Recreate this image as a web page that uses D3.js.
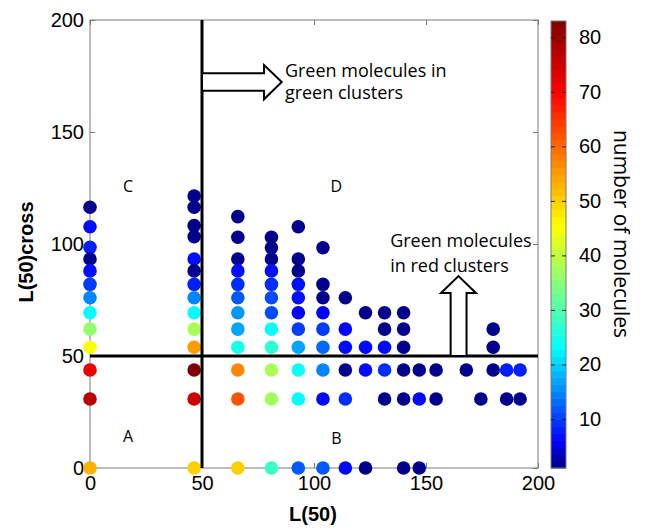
<!DOCTYPE html>
<html>
<head>
<meta charset="UTF-8">
<title>L(50) vs L(50)cross</title>
<script src="https://d3js.org/d3.v7.min.js"></script>
<style>
  body { margin: 0; background: #fff; }
  .tick text { font-family: "Liberation Sans", Arial, sans-serif; font-size: 20px; fill: #000; }
</style>
</head>
<body>
<svg id="chart" width="646" height="529"></svg>
<script>
// values, one line per L(50) column
var l50 = [
  0,0,0,0,0,0,0,0,0,0,0,0,0,
  46.5,46.5,46.5,46.5,46.5,46.5,46.5,46.5,46.5,46.5,46.5,46.5,46.5,46.5,
  66,66,66,66,66,66,66,66,66,66,66,66,
  81,81,81,81,81,81,81,81,81,81,81,81,
  93,93,93,93,93,93,93,93,93,93,93,
  104,104,104,104,104,104,104,104,104,
  114,114,114,114,114,114,
  123,123,123,123,
  131.5,131.5,131.5,131.5,131.5,
  140,140,140,140,140,140,
  147,147,147,
  154.5,154.5,
  168,
  174.5,
  180,180,180,
  186,186,
  192,192
];
var l50cross = [
  116.4,107.7,98.5,93.3,88,82,76,69.3,62,53.9,43.75,30.8,0,
  121.4,116.4,108.2,103.3,93.3,88,82,76,69.3,62,53.9,43.75,30.8,0,
  112.2,103,93.3,88,82,76,69.3,62,53.9,43.75,30.8,0,
  103,98.3,93.3,88,82,76,69.3,62,53.9,43.75,30.8,0,
  107.7,93.3,88,82,76,69.3,62,53.9,43.75,30.8,0,
  98.3,82,76,69.3,62,53.9,43.75,30.8,0,
  76,62,53.9,43.75,30.8,0,
  69.3,53.9,43.75,0,
  69.3,62,53.9,43.75,30.8,
  69.3,62,53.9,43.75,30.8,0,
  43.75,30.8,0,
  43.75,30.8,
  43.75,
  30.8,
  62,53.9,43.75,
  43.75,30.8,
  43.75,30.8
];
var molecules = [
  1.5,7,8,1.5,7,10,15,23,36,45,72,77,53,
  1.5,1.5,1.5,1.5,7,1.5,8,15,23,38,55,83,75,50,
  1.5,1.5,1.5,7,9,12,16,17,25,57,62,50,
  1.5,1.5,1.5,7,9,11,11,23,27,38,37,28,
  1.5,1.5,1.5,7,7,6,10,17,24,23,12,
  1.5,1.5,1.5,6,10,13,15,6.5,12,
  1.5,6,6.5,1.5,9,6.5,
  1.5,6.5,6.5,1.5,
  1.5,1.5,6.5,9,1.5,
  1.5,1.5,1.5,1.5,1.5,1.5,
  1.5,6.5,1.5,
  1.5,1.5,
  1.5,
  1.5,
  1.5,1.5,1.5,
  8,1.5,
  8,1.5
];
var axisTicks = [0, 50, 100, 150, 200];
var colorTicks = [10, 20, 30, 40, 50, 60, 70, 80];
var colorRange = [1, 83];
var regionLabels = ["A", "B", "C", "D"];
var regionX = [17, 110, 17, 110];
var regionY = [14, 13.3, 125.6, 125.6];

var svg = d3.select("#chart");
var x = d3.scaleLinear().domain([0, 200]).range([90, 538]);
var y = d3.scaleLinear().domain([0, 200]).range([468, 20]);

// jet-like colour map, stops placed as on the colour bar
var color = d3.scaleLinear()
  .domain([1, 6, 23, 45.5, 70, 83])
  .range(["#000080", "#0000ff", "#00ffff", "#ffff00", "#ff0000", "#800000"])
  .clamp(true);

// axes, MATLAB style: box with inward ticks on all sides
function styleAxis(g) {
  g.select(".domain").remove();
  g.selectAll(".tick line").attr("stroke", "#7a7a7a");
}
svg.append("g").attr("transform", "translate(0,468)")
  .call(d3.axisBottom(x).tickValues(axisTicks).tickSizeInner(-5).tickSizeOuter(0).tickPadding(8))
  .call(styleAxis);
svg.append("g").attr("transform", "translate(90,0)")
  .call(d3.axisLeft(y).tickValues(axisTicks).tickSizeInner(-5).tickSizeOuter(0).tickPadding(6))
  .call(styleAxis);
svg.append("g").attr("transform", "translate(0,20)")
  .call(d3.axisTop(x).tickValues(axisTicks).tickSizeInner(-5).tickSizeOuter(0).tickFormat(""))
  .call(styleAxis);
svg.append("g").attr("transform", "translate(538,0)")
  .call(d3.axisRight(y).tickValues(axisTicks).tickSizeInner(-5).tickSizeOuter(0).tickFormat(""))
  .call(styleAxis);
svg.append("rect")
  .attr("x", x(0)).attr("y", y(200))
  .attr("width", x(200) - x(0)).attr("height", y(0) - y(200))
  .attr("fill", "none").attr("stroke", "#7a7a7a").attr("stroke-width", 1);

// dots
svg.append("g").selectAll("circle")
  .data(d3.range(l50.length))
  .enter().append("circle")
  .attr("cx", function (i) { return x(l50[i]); })
  .attr("cy", function (i) { return y(l50cross[i]); })
  .attr("r", 6.8)
  .attr("fill", function (i) { return color(molecules[i]); });

// threshold lines
svg.append("line")
  .attr("x1", x(50)).attr("x2", x(50)).attr("y1", y(0)).attr("y2", y(200))
  .attr("stroke", "#000").attr("stroke-width", 3);
svg.append("line")
  .attr("x1", x(0)).attr("x2", x(200)).attr("y1", y(50)).attr("y2", y(50))
  .attr("stroke", "#000").attr("stroke-width", 3);

// hollow arrows
var line = d3.line().x(function (p) { return x(p[0]); }).y(function (p) { return y(p[1]); });
svg.append("path")
  .attr("d", line([[50, 176.2], [77.7, 176.2], [77.7, 179.9], [85.6, 172.3], [77.7, 164.6], [77.7, 168.4], [50, 168.4]]) + "Z")
  .attr("fill", "#fff").attr("stroke", "#000").attr("stroke-width", 2);
svg.append("path")
  .attr("d", line([[161, 50], [161, 78.1], [156.7, 78.1], [164.5, 85.7], [172.3, 78.1], [168.1, 78.1], [168.1, 50]]) + "Z")
  .attr("fill", "#fff").attr("stroke", "#000").attr("stroke-width", 2);

// annotation text
var noteFont = "'Open Sans', 'Noto Sans', sans-serif";
function note(txt, dx, dy) {
  svg.append("text").attr("x", x(dx)).attr("y", y(dy))
    .attr("font-family", noteFont).attr("font-size", 18).attr("fill", "#000")
    .text(txt);
}
note("Green molecules in", 87, 174.7);
note("green clusters", 87, 164.7);
note("Green molecules", 134, 98.8);
note("in red clusters", 134, 87.6);

svg.append("g").selectAll("text")
  .data(regionLabels)
  .enter().append("text")
  .attr("x", function (d, i) { return x(regionX[i]); })
  .attr("y", function (d, i) { return y(regionY[i]); })
  .attr("dy", "0.36em")
  .attr("text-anchor", "middle")
  .attr("font-family", noteFont).attr("font-size", 16)
  .text(function (d) { return d; });

// axis titles
svg.append("text").attr("x", 313).attr("y", 521)
  .attr("text-anchor", "middle")
  .attr("font-family", "'Liberation Sans', Arial, sans-serif")
  .attr("font-weight", "bold").attr("font-size", 20)
  .text("L(50)");
svg.append("text")
  .attr("transform", "translate(33,252) rotate(-90)")
  .attr("text-anchor", "middle")
  .attr("font-family", "'Liberation Sans', Arial, sans-serif")
  .attr("font-weight", "bold").attr("font-size", 20)
  .text("L(50)cross");

// colour bar
var cbX = 551, cbW = 15;
var cbY = d3.scaleLinear().domain(colorRange).range([468, 21]);
var nBands = 64;
var bandStep = (colorRange[1] - colorRange[0]) / nBands;
var bands = d3.range(nBands).map(function (k) { return colorRange[0] + k * bandStep; });
svg.append("g").selectAll("rect")
  .data(bands)
  .enter().append("rect")
  .attr("x", cbX).attr("width", cbW)
  .attr("y", function (v) { return cbY(v + bandStep); })
  .attr("height", function (v) { return cbY(v) - cbY(v + bandStep) + 0.5; })
  .attr("fill", function (v) { return color(v + bandStep / 2); });
svg.append("rect")
  .attr("x", cbX).attr("y", cbY(colorRange[1]))
  .attr("width", cbW).attr("height", cbY(colorRange[0]) - cbY(colorRange[1]))
  .attr("fill", "none").attr("stroke", "#7a7a7a");
var cbAxis = svg.append("g").attr("transform", "translate(" + (cbX + cbW) + ",0)")
  .call(d3.axisRight(cbY).tickValues(colorTicks).tickSizeInner(-4).tickSizeOuter(0).tickPadding(13))
  .call(styleAxis);
cbAxis.selectAll(".tick line").attr("stroke", "#222");
svg.append("g").attr("transform", "translate(" + cbX + ",0)")
  .call(d3.axisLeft(cbY).tickValues(colorTicks).tickSizeInner(-4).tickSizeOuter(0).tickFormat(""))
  .call(styleAxis)
  .selectAll(".tick line").attr("stroke", "#222");

svg.append("text")
  .attr("transform", "translate(621,234) rotate(90)")
  .attr("text-anchor", "middle").attr("dy", "0.35em")
  .attr("font-family", noteFont).attr("font-size", 21)
  .text("number of molecules");
</script>
</body>
</html>
